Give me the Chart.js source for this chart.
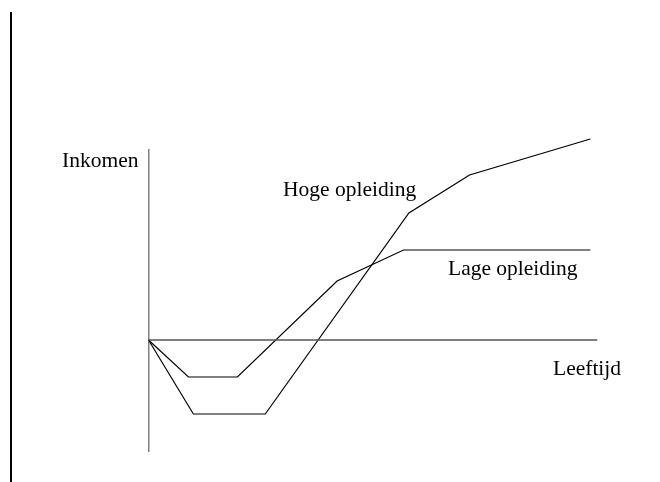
<!DOCTYPE html>
<html>
<head>
<meta charset="utf-8">
<script src="https://cdn.jsdelivr.net/npm/chart.js@4"></script>
<style>
  html, body { margin: 0; padding: 0; background: #fff; }
  #wrap { position: relative; width: 660px; height: 482px; }
  canvas { position: absolute; left: 0; top: 0; }
  .lbl { position: absolute; font-family: "Liberation Serif", "Times New Roman", serif; font-size: 21.5px; color: #000; line-height: 1; white-space: nowrap; }
</style>
</head>
<body>
<div id="wrap">
  <canvas id="myChart" width="660" height="482"></canvas>
  <div class="lbl" style="left:62px; top:150px;">Inkomen</div>
  <div class="lbl" style="left:283px; top:179px;">Hoge opleiding</div>
  <div class="lbl" style="left:448px; top:258px;">Lage opleiding</div>
  <div class="lbl" style="left:553px; top:358px;">Leeftijd</div>
</div>
<script>
// Leeftijd (x) en inkomen (y)
const hogeLeeftijd = [0, 10, 26, 58, 71.5, 98.4];
const hogeInkomen  = [0, -37, -37, 63.5, 82.5, 100.5];

const lageLeeftijd = [0, 8.9, 19.8, 42, 56.8, 98.4];
const lageInkomen  = [0, -18.5, -18.5, 29.5, 45, 45];

// Assen
const asInkomen  = [-56, 95.5];   // verticale as (bij leeftijd 0)
const asLeeftijd = [0, 100];      // horizontale as (bij inkomen 0)

const toPoints = (xs, ys) => xs.map((x, i) => ({ x: x, y: ys[i] }));

// Lijn links langs de rand van de figuur
const randLijn = {
  id: 'randLijn',
  afterDraw(chart) {
    const ctx = chart.ctx;
    ctx.save();
    ctx.strokeStyle = '#000';
    ctx.lineWidth = 2;
    ctx.beginPath();
    ctx.moveTo(11, 12);
    ctx.lineTo(11, 482);
    ctx.stroke();
    ctx.restore();
  }
};

const lijn = (data, color, width) => ({
  data: data,
  borderColor: color,
  borderWidth: width || 1.2,
  pointRadius: 0,
  fill: false,
  tension: 0
});

const ctx = document.getElementById('myChart').getContext('2d');
new Chart(ctx, {
  type: 'line',
  data: {
    datasets: [
      lijn(asInkomen.map(y => ({ x: 0, y: y })), '#000', 1.5),
      lijn(asLeeftijd.map(x => ({ x: x, y: 0 })), '#555', 1.5),
      lijn(toPoints(hogeLeeftijd, hogeInkomen), '#000'),
      lijn(toPoints(lageLeeftijd, lageInkomen), '#000')
    ]
  },
  options: {
    responsive: false,
    animation: false,
    layout: { padding: { left: 148.5, right: 62.5, top: 130, bottom: 22 } },
    plugins: { legend: { display: false }, tooltip: { enabled: false } },
    scales: {
      x: { type: 'linear', min: 0, max: 100, display: false },
      y: { type: 'linear', min: -60, max: 105, display: false }
    }
  },
  plugins: [randLijn]
});
</script>
</body>
</html>
